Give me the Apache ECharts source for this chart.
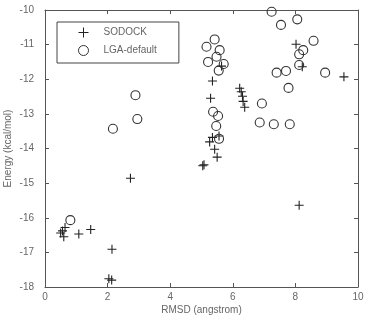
<!DOCTYPE html>
<html>
<head>
<meta charset="utf-8">
<script src="https://cdn.jsdelivr.net/npm/echarts@6/dist/echarts.min.js"></script>
<style>
html,body{margin:0;padding:0;background:#fff;}
#c{width:365px;height:318px;}
</style>
</head>
<body>
<div id="c"></div>
<script>
// Data
var sodock = [
  [0.50,-16.44],[0.56,-16.38],[0.64,-16.28],[0.60,-16.55],[1.08,-16.47],[1.46,-16.34],
  [2.14,-16.91],[2.04,-17.76],[2.13,-17.80],[2.73,-14.86],
  [5.64,-11.62],[5.35,-12.05],[5.29,-12.55],[5.56,-13.64],[5.35,-13.68],[5.26,-13.81],
  [5.42,-14.02],[5.50,-14.25],[5.04,-14.50],[5.08,-14.47],
  [6.22,-12.26],[6.27,-12.36],[6.31,-12.49],[6.33,-12.64],[6.38,-12.81],
  [8.02,-10.99],[8.22,-11.64],[9.55,-11.93],[8.12,-15.64]
];
var lga = [
  [7.24,-10.05],[7.54,-10.43],[8.06,-10.27],[8.58,-10.89],[8.25,-11.16],[8.12,-11.28],
  [8.12,-11.59],[7.40,-11.81],[7.70,-11.76],[8.95,-11.81],[7.78,-12.25],[6.93,-12.70],
  [6.86,-13.25],[7.31,-13.30],[7.82,-13.30],
  [5.42,-10.85],[5.16,-11.06],[5.58,-11.16],[5.48,-11.35],[5.21,-11.50],[5.71,-11.56],
  [5.55,-11.75],[5.37,-12.94],[5.53,-13.06],[5.47,-13.35],[5.56,-13.72],
  [2.89,-12.46],[2.95,-13.15],[2.17,-13.43],[0.81,-16.07]
];
var seriesNames = ['SODOCK', 'LGA-default'];
var xTitle = 'RMSD (angstrom)';
var yTitle = 'Energy (kcal/mol)';

var font = "'Liberation Sans Narrow','Liberation Sans',Arial,sans-serif";
var axisColor = '#555';
var textColor = '#666';

function mkAxis(pos, isX, showLabel) {
  return {
    type: 'value',
    position: pos,
    min: isX ? 0 : -18,
    max: isX ? 10 : -10,
    interval: isX ? 2 : 1,
    nameMoveOverlap: false,
    axisLine: {show: true, onZero: false, lineStyle: {color: axisColor, width: 1}},
    axisTick: {show: true, inside: true, length: 4, lineStyle: {color: axisColor}},
    axisLabel: {show: showLabel, color: textColor, fontFamily: font, fontSize: 10, margin: isX ? 5 : 11},
    splitLine: {show: false}
  };
}

var x0 = mkAxis('bottom', true, true);
x0.name = xTitle; x0.nameLocation = 'middle'; x0.nameGap = 18;
x0.nameTextStyle = {color: textColor, fontFamily: font, fontSize: 10};
var x1 = mkAxis('top', true, false);
var y0 = mkAxis('left', false, true);
y0.name = yTitle; y0.nameLocation = 'middle'; y0.nameGap = 32;
y0.nameTextStyle = {color: textColor, fontFamily: font, fontSize: 10};
var y1 = mkAxis('right', false, false);

var chart = echarts.init(document.getElementById('c'), null, {renderer: 'canvas'});
chart.setOption({
  animation: false,
  backgroundColor: '#fff',
  grid: {left: 45, right: 7, top: 10, bottom: 31, containLabel: false, outerBoundsMode: 'none'},
  xAxis: [x0, x1],
  yAxis: [y0, y1],
  legend: {
    orient: 'vertical',
    left: 57, top: 22,
    data: seriesNames,
    itemWidth: 30, itemHeight: 10, itemGap: 7,
    padding: [5, 22, 7, 21],
    borderColor: '#444', borderWidth: 1,
    itemStyle: {borderWidth: 1},
    textStyle: {color: textColor, fontFamily: font, fontSize: 10, lineHeight: 10}
  },
  series: [
    {
      name: seriesNames[0], type: 'scatter', xAxisIndex: 0, yAxisIndex: 0,
      data: sodock,
      symbol: 'path://M5 0 L5 10 M0 5 L10 5',
      symbolSize: 9,
      itemStyle: {color: 'rgba(0,0,0,0)', borderColor: '#222', borderWidth: 1.1, opacity: 1}
    },
    {
      name: seriesNames[1], type: 'scatter', xAxisIndex: 0, yAxisIndex: 0,
      data: lga,
      symbol: 'circle',
      symbolSize: 9,
      itemStyle: {color: 'rgba(0,0,0,0)', borderColor: '#333', borderWidth: 1.1, opacity: 1}
    }
  ]
});
</script>
</body>
</html>
